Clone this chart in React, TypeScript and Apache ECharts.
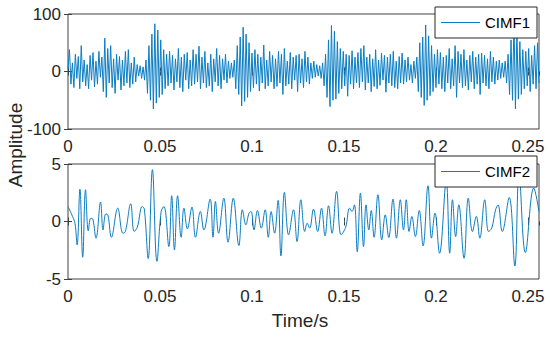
import React, { useEffect, useRef } from "react";
import * as echarts from "echarts";

// ---------- data ----------
const TIME_MAX = 0.256;
const X_INTERVAL = 0.05;
const TOP_DT = 0.0008; // sample spacing of the CIMF1 trace (s)

const CIMF1: number[] = [
  5, 38, -22, 15, -28, 30, -12, 26, -30, 45, -18, 20, -25, 12, -30, 28, -15, 33, -27, 18,
  -22, 35, -10, 25, -35, 58, -45, 40, -20, 45, -28, 22, -38, 30, -15, 26, -32, 20, -25, 35,
  -20, 38, -28, 15, -22, 25, -18, 12, -8, 10, -12, 8, -15, 20, -38, 45, -50, 65, -65, 83,
  -55, 72, -45, 55, -40, 38, -30, 30, -25, 35, -20, 28, -32, 22, -18, 40, -28, 25, -35, 30,
  -15, 33, -30, 20, -25, 38, -22, 30, -18, 44, -30, 25, -20, 35, -28, 15, -25, 30, -35, 22,
  -18, 40, -25, 28, -30, 22, -15, 30, -20, 18, -12, 15, -10, 20, -30, 45, -40, 60, -60, 77,
  -52, 65, -45, 50, -35, 32, -28, 38, -22, 30, -34, 25, -20, 46, -30, 20, -25, 35, -18, 28,
  -30, 22, -26, 35, -20, 30, -40, 40, -25, 18, -22, 33, -30, 25, -15, 28, -35, 30, -20, 22,
  -28, 35, -18, 25, -22, 15, -12, 18, -10, 12, -8, 10, -12, 15, -25, 30, -45, 55, -61, 80,
  -50, 70, -48, 52, -38, 40, -30, 35, -25, 30, -43, 28, -22, 36, -30, 25, -20, 33, -28, 40,
  -18, 45, -32, 25, -20, 30, -35, 22, -26, 38, -30, 20, -24, 32, -15, 28, -36, 25, -20, 30,
  -25, 35, -28, 18, -30, 26, -20, 32, -22, 20, -18, 25, -15, 12, -20, 18, -12, 25, -35, 50,
  -45, 60, -59, 81, -50, 62, -42, 45, -35, 30, -28, 38, -22, 33, -30, 25, -35, 28, -20, 40,
  -30, 22, -25, 45, -45, 35, -20, 30, -28, 38, -25, 20, -32, 28, -18, 35, -30, 25, -22, 30,
  -40, 32, -20, 28, -25, 22, -30, 35, -18, 25, -22, 18, -15, 20, -12, 15, -10, 18, -20, 30,
  -40, 55, -50, 90, -65, 70, -48, 52, -40, 38, -30, 35, -25, 40, -35, 28, -22, 45, -30, 50, -20,
];

const CIMF2_T: number[] = [
  0, 0.00247, 0.0038, 0.00495, 0.00647, 0.00799, 0.00952, 0.01104, 0.01237, 0.01351,
  0.01523, 0.0177, 0.01903, 0.02056, 0.0217, 0.0236, 0.02703, 0.02988, 0.03121, 0.03407,
  0.03597, 0.03769, 0.04035, 0.04149, 0.04359, 0.04587, 0.04834, 0.05063, 0.05215, 0.05481,
  0.05634, 0.05786, 0.05957, 0.06148, 0.063, 0.0649, 0.06738, 0.06928, 0.07194, 0.07385,
  0.07727, 0.0788, 0.08013, 0.08184, 0.0847, 0.08698, 0.08984, 0.09288, 0.09478, 0.09669,
  0.0984, 0.09954, 0.10107, 0.10297, 0.10506, 0.10716, 0.10887, 0.11039, 0.11229, 0.1142,
  0.11572, 0.11762, 0.11991, 0.12257, 0.12448, 0.12657, 0.12866, 0.13, 0.13133, 0.13342,
  0.13571, 0.1378, 0.1397, 0.14161, 0.14351, 0.14598, 0.14846, 0.15093, 0.15303, 0.15436,
  0.15569, 0.15721, 0.15893, 0.16064, 0.16197, 0.16349, 0.16483, 0.16635, 0.16844, 0.17054,
  0.17244, 0.17434, 0.17663, 0.17853, 0.18062, 0.18234, 0.18386, 0.18538, 0.18691, 0.18881,
  0.1909, 0.193, 0.19566, 0.19756, 0.19947, 0.20194, 0.20556, 0.20746, 0.20898, 0.2107,
  0.21241, 0.21527, 0.21755, 0.21984, 0.22193, 0.22383, 0.2265, 0.22859, 0.2303, 0.23239,
  0.23373, 0.23602, 0.23982, 0.24287, 0.24515, 0.24858, 0.25315, 0.256,
];

const CIMF2_V: number[] = [
  1.31, 0.44, -0.15, -2.03, 2.82, -3.11, 2.76, -0.81, 0.29, 0.2,
  -1.45, 1.69, -0.73, 0.67, 0.55, -1.37, 1.16, -1.02, -0.87, 1.54,
  -0.87, -0.49, 1.31, 1.08, -3.23, 4.51, -3.46, 0.87, 1.31, -2.18,
  2.24, -2.47, 2.24, -1.37, 1.16, -0.64, 1.25, -1.37, 0.87, -0.73,
  1.95, -1.37, 1.74, -1.02, 2.03, -1.8, 2.03, -2.09, 1.02, -0.29,
  0.73, 0.87, -0.73, 0.96, -0.58, 1.02, -1.37, 0.87, -1.02, 1.83,
  -2.99, 2.53, -1.16, 1.02, -1.74, 1.89, -0.87, -0.15, -0.58, 1.08,
  -0.87, 1.16, -1.25, 1.37, -1.02, 2.62, -1.16, -0.49, 1.16, 0.87,
  1.45, -2.62, 2.47, -2.18, 1.45, -0.73, 0.96, -1.37, 2.33, -1.6,
  0.58, -1.4, 1.95, -1.45, 1.89, -0.73, 1.89, -0.87, 0.44, -1.31,
  0.96, -2.12, 3.11, -1.45, 0.73, -2.76, 3.49, -2.76, 1.89, -1.31,
  1.45, -3.2, 2.03, -0.87, 0.44, -1.45, 1.89, -0.87, -0.58, 1.02,
  1.45, -0.87, 2.09, -3.87, 4.2, -2.7, 2.91, 0.87,
];

const SERIES_NAMES = ["CIMF1", "CIMF2"];
const TOP_Y = { min: -100, max: 100, interval: 100 };
const BOT_Y = { min: -5, max: 5, interval: 5 };
const X_LABEL = "Time/s";
const Y_LABEL = "Amplitude";

// ---------- style ----------
const FONT = '"Liberation Sans", Arial, sans-serif';
const LINE_COLOR = "#0b7dc3";
const AXIS_COLOR = "#404040";
const TEXT_COLOR = "#262626";

const GRID_LEFT = 68;
const GRID_WIDTH = 471;
const GRID_HEIGHT = 115;
const GRID_TOPS = [14, 164];

function xAxisDef(gridIndex: number, position: "top" | "bottom", labels: boolean) {
  return {
    type: "value",
    gridIndex,
    position,
    min: 0,
    max: TIME_MAX,
    interval: X_INTERVAL,
    axisLine: { show: false },
    axisTick: { show: true, inside: true, length: 4, lineStyle: { color: AXIS_COLOR, width: 1 } },
    axisLabel: {
      show: labels,
      margin: 9,
      color: TEXT_COLOR,
      fontSize: 17,
      fontFamily: FONT,
      showMaxLabel: false,
    },
    splitLine: { show: false },
  };
}

function yAxisDef(
  gridIndex: number,
  position: "left" | "right",
  labels: boolean,
  r: { min: number; max: number; interval: number }
) {
  return {
    type: "value",
    gridIndex,
    position,
    min: r.min,
    max: r.max,
    interval: r.interval,
    axisLine: { show: false },
    axisTick: { show: true, inside: true, length: 4, lineStyle: { color: AXIS_COLOR, width: 1 } },
    axisLabel: { show: labels, margin: 7, color: TEXT_COLOR, fontSize: 17, fontFamily: FONT },
    splitLine: { show: false },
  };
}

function legendDef(name: string, top: number) {
  return {
    data: [name],
    left: 435,
    top,
    orient: "horizontal",
    selectedMode: false,
    backgroundColor: "#ffffff",
    borderColor: "#262626",
    borderWidth: 1,
    borderRadius: 0,
    padding: [8, 7, 8, 6],
    itemWidth: 39,
    itemHeight: 1.2,
    icon: "rect",
    textStyle: { fontSize: 15, fontFamily: FONT, color: "#000000" },
  };
}

export default function App() {
  const ref = useRef<HTMLDivElement>(null);

  useEffect(() => {
    if (!ref.current) return;
    const chart = echarts.init(ref.current, undefined, { renderer: "svg" });

    const option = {
      animation: false,
      backgroundColor: "#ffffff",
      grid: GRID_TOPS.map((top) => ({
        left: GRID_LEFT,
        top,
        width: GRID_WIDTH,
        height: GRID_HEIGHT,
        show: true,
        borderColor: AXIS_COLOR,
        borderWidth: 1,
        backgroundColor: "#ffffff",
        containLabel: false,
      })),
      xAxis: [
        xAxisDef(0, "bottom", true),
        xAxisDef(0, "top", false),
        xAxisDef(1, "bottom", true),
        xAxisDef(1, "top", false),
      ],
      yAxis: [
        yAxisDef(0, "left", true, TOP_Y),
        yAxisDef(0, "right", false, TOP_Y),
        yAxisDef(1, "left", true, BOT_Y),
        yAxisDef(1, "right", false, BOT_Y),
      ],
      legend: [legendDef(SERIES_NAMES[0], 7), legendDef(SERIES_NAMES[1], 156)],
      series: [
        {
          type: "line",
          name: SERIES_NAMES[0],
          xAxisIndex: 0,
          yAxisIndex: 0,
          data: CIMF1.map((v, i) => [i * TOP_DT, v]),
          showSymbol: false,
          symbol: "none",
          lineStyle: { width: 1, color: LINE_COLOR },
          itemStyle: { color: LINE_COLOR },
        },
        {
          type: "line",
          name: SERIES_NAMES[1],
          xAxisIndex: 2,
          yAxisIndex: 2,
          data: CIMF2_T.map((t, i) => [t, CIMF2_V[i]]),
          smooth: 0.4,
          showSymbol: false,
          symbol: "none",
          lineStyle: { width: 1, color: LINE_COLOR },
          itemStyle: { color: LINE_COLOR },
        },
      ],
      graphic: [
        {
          type: "text",
          x: 15,
          y: 145,
          rotation: Math.PI / 2,
          style: {
            text: Y_LABEL,
            fontSize: 19,
            fontFamily: FONT,
            fill: TEXT_COLOR,
            align: "center",
            verticalAlign: "middle",
          },
        },
        {
          type: "text",
          x: 300,
          y: 320,
          style: {
            text: X_LABEL,
            fontSize: 19,
            fontFamily: FONT,
            fill: TEXT_COLOR,
            align: "center",
            verticalAlign: "middle",
          },
        },
      ],
    };

    chart.setOption(option as any);
    return () => chart.dispose();
  }, []);

  return (
    <div
      ref={ref}
      style={{ position: "absolute", left: 0, top: 0, width: 550, height: 341 }}
    />
  );
}
